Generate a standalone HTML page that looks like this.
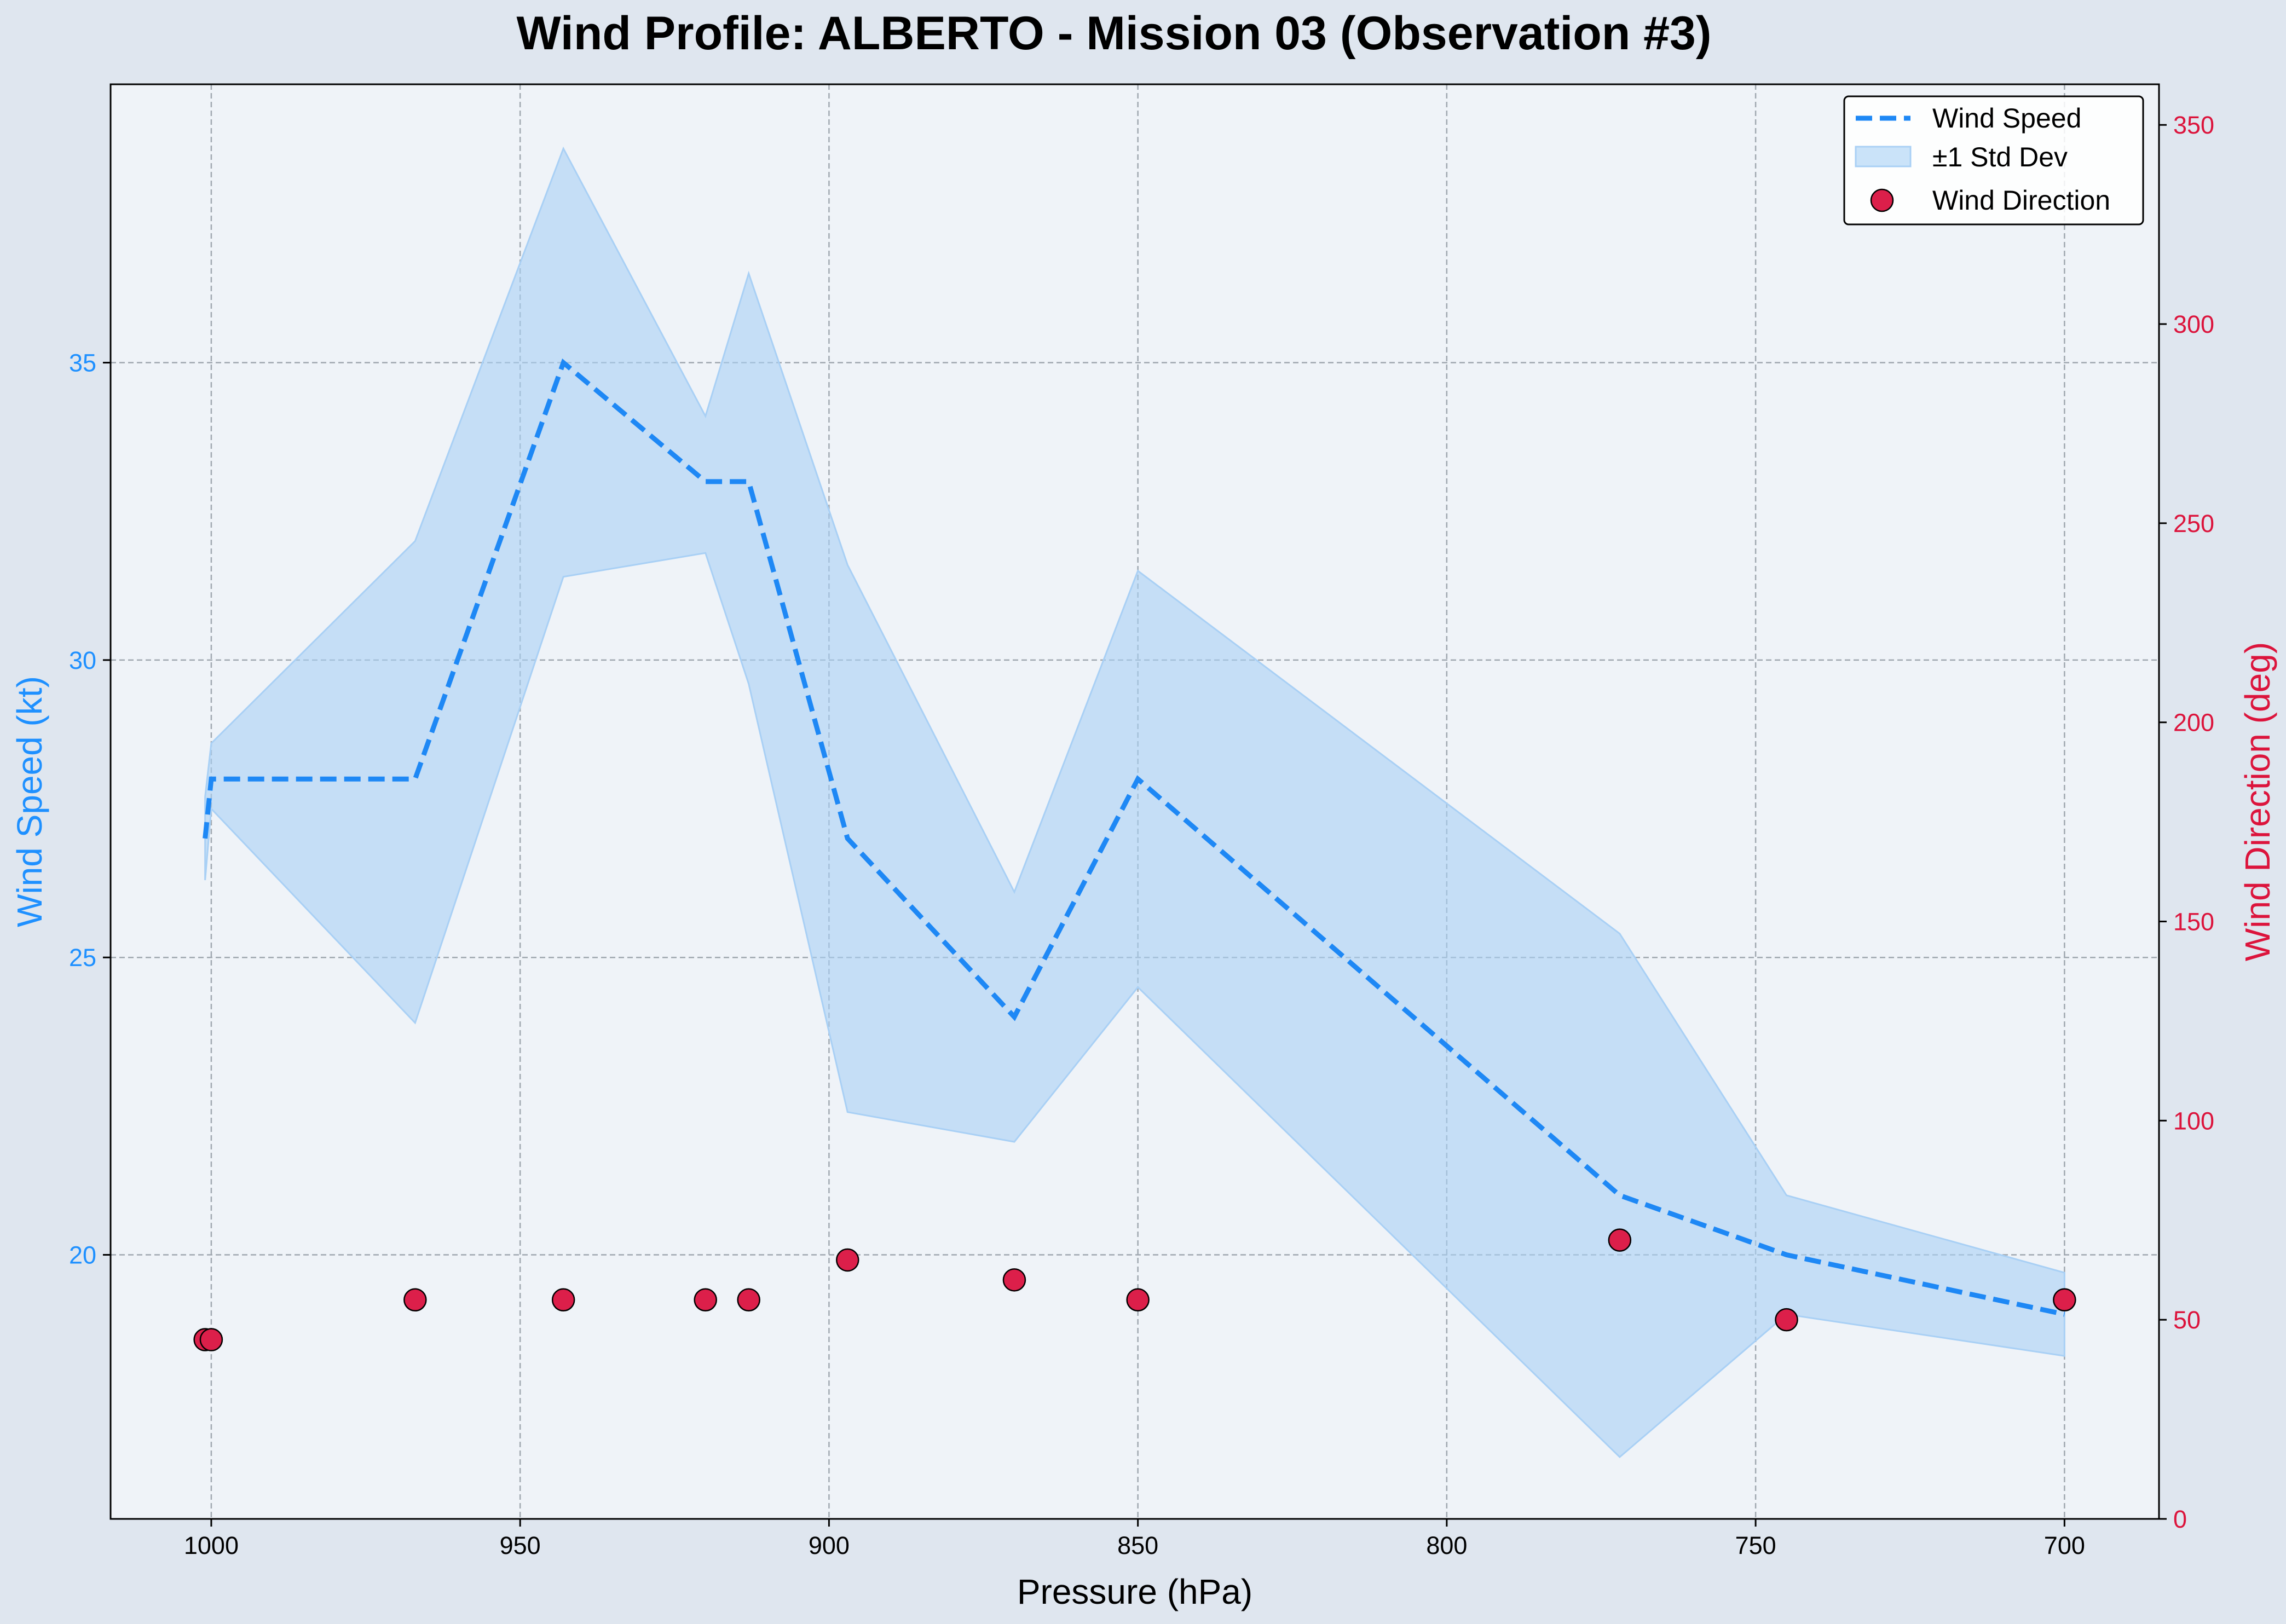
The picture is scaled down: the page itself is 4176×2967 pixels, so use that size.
<!DOCTYPE html>
<html><head><meta charset="utf-8"><style>
html,body{margin:0;padding:0;background:#dfe6ef;}
svg{display:block;font-family:"Liberation Sans",sans-serif;}
</style></head><body>
<svg id="chart" width="4176" height="2967" viewBox="0 0 4176 2967" xmlns="http://www.w3.org/2000/svg"></svg>
<script>
const pressures=[1001,1000,967,943,920,913,897,870,850,772,745,700];
const speeds=[27,28,28,35,33,33,27,24,28,21,20,19];
const upperBand=[27.7,28.6,32.0,38.6,34.1,36.5,31.6,26.1,31.5,25.4,21.0,19.7];
const lowerBand=[26.3,27.5,23.9,31.4,31.8,29.6,22.4,21.9,24.5,16.6,19.0,18.3];
const directions=[45,45,55,55,55,55,65,60,55,70,50,55];
const xTicks=[1000,950,900,850,800,750,700];
const yTicks=[20,25,30,35];
const y2Ticks=[0,50,100,150,200,250,300,350];

const L=202,R=3944,T=154,B=2775;
const X=p=>L+(1016.3-p)/(1016.3-684.7)*(R-L);
const Y=v=>B-(v-15.56)/(39.68-15.56)*(B-T);
const Y2=v=>B-v/360.2*(B-T);
const svg=document.getElementById('chart');
const NS='http://www.w3.org/2000/svg';
function mk(tag,attrs,parent){const e=document.createElementNS(NS,tag);for(const k in attrs)e.setAttribute(k,attrs[k]);(parent||svg).appendChild(e);return e;}

const bg=mk('rect',{x:L,y:T,width:R-L,height:B-T,fill:'#eff3f8'});



xTicks.forEach(t=>{const g=mk('line',{x1:X(t),x2:X(t),y1:T,y2:B,stroke:'#a0a8b0','stroke-width':2.5,'stroke-dasharray':'10,6'});

});
yTicks.forEach(t=>{const g=mk('line',{x1:L,x2:R,y1:Y(t),y2:Y(t),stroke:'#a0a8b0','stroke-width':2.5,'stroke-dasharray':'10,6'});

});

let d='M'+pressures.map((p,i)=>X(p)+','+Y(upperBand[i])).join('L');
for(let i=pressures.length-1;i>=0;i--)d+='L'+X(pressures[i])+','+Y(lowerBand[i]);
const band=mk('path',{d:d+'Z',fill:'#a9d0f5','fill-opacity':0.6,stroke:'#a9d0f5','stroke-width':3});



const line=mk('polyline',{points:pressures.map((p,i)=>X(p)+','+Y(speeds[i])).join(' '),fill:'none',stroke:'#1e88f5','stroke-width':9,'stroke-dasharray':'30,14'});



pressures.forEach((p,i)=>{const c=mk('circle',{cx:X(p),cy:Y2(directions[i]),r:20,fill:'#dc1f4a',stroke:'#000','stroke-width':2.5});

});

const frame=mk('rect',{x:L,y:T,width:R-L,height:B-T,fill:'none',stroke:'#000','stroke-width':3});



xTicks.forEach(t=>{mk('line',{x1:X(t),x2:X(t),y1:B,y2:B+14,stroke:'#000','stroke-width':3});
const tx=mk('text',{x:X(t),y:B+64,'font-size':45,'text-anchor':'middle',fill:'#000'});tx.textContent=t;

});
yTicks.forEach(t=>{mk('line',{x1:L,x2:L-14,y1:Y(t),y2:Y(t),stroke:'#000','stroke-width':3});
const tx=mk('text',{x:L-26,y:Y(t)+16,'font-size':45,'text-anchor':'end',fill:'#1e90ff'});tx.textContent=t;

});
y2Ticks.forEach(t=>{mk('line',{x1:R,x2:R+14,y1:Y2(t),y2:Y2(t),stroke:'#000','stroke-width':3});
const tx=mk('text',{x:R+26,y:Y2(t)+16,'font-size':45,'text-anchor':'start',fill:'#dc143c'});tx.textContent=t;

});

const title=mk('text',{x:2035,y:90,'font-size':86,'font-weight':'bold','text-anchor':'middle',fill:'#000'});title.textContent='Wind Profile: ALBERTO - Mission 03 (Observation #3)';


const xl=mk('text',{x:(L+R)/2,y:2930,'font-size':64,'text-anchor':'middle',fill:'#000'});xl.textContent='Pressure (hPa)';


const yl=mk('text',{x:0,y:0,'font-size':64,'text-anchor':'middle',fill:'#1e90ff',transform:`translate(76,${(T+B)/2}) rotate(-90)`});yl.textContent='Wind Speed (kt)';


const y2l=mk('text',{x:0,y:0,'font-size':64,'text-anchor':'middle',fill:'#dc143c',transform:`translate(4146,${(T+B)/2}) rotate(-90)`});y2l.textContent='Wind Direction (deg)';



const lg=mk('g',{});


mk('rect',{x:3369,y:176,width:546,height:234,rx:8,fill:'#fff','fill-opacity':0.85,stroke:'#000','stroke-width':3},lg);
mk('line',{x1:3390,x2:3490,y1:216,y2:216,stroke:'#1e88f5','stroke-width':9,'stroke-dasharray':'30,14'},lg);
mk('rect',{x:3390,y:268,width:100,height:36,fill:'#a9d0f5','fill-opacity':0.6,stroke:'#a9d0f5','stroke-width':3},lg);
mk('circle',{cx:3438,cy:366,r:20,fill:'#dc1f4a',stroke:'#000','stroke-width':2.5},lg);
[['Wind Speed',233],['±1 Std Dev',304],['Wind Direction',383]].forEach(([s,y])=>{const t=mk('text',{x:3530,y:y,'font-size':50,fill:'#000'},lg);t.textContent=s;

});
</script>
</body></html>
